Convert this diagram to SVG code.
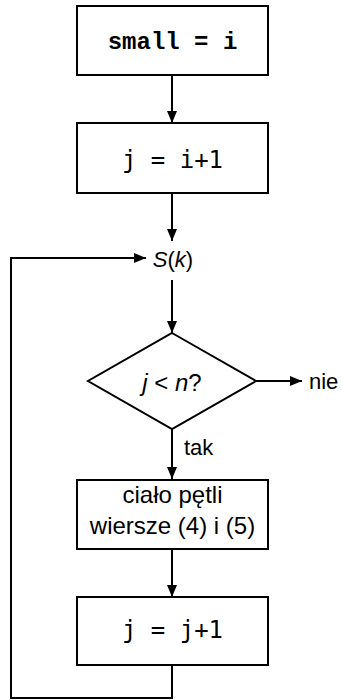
<svg xmlns="http://www.w3.org/2000/svg" width="341" height="700" viewBox="0 0 341 700">
<defs>
<marker id="ah" viewBox="0 0 12 10" refX="12" refY="5" markerWidth="12" markerHeight="10" markerUnits="userSpaceOnUse" orient="auto">
<path d="M0,0 L12,5 L0,10 Z" fill="#000"/>
</marker>
<style>
.box{fill:#fff;stroke:#000;stroke-width:2}
.ln{fill:none;stroke:#000;stroke-width:2}
.cour{font-family:"Liberation Mono",monospace;font-weight:bold;font-size:24px}
.mono{font-family:"DejaVu Sans Mono",monospace;font-size:24px}
.sans{font-family:"Liberation Sans",Arial,sans-serif;font-size:22px}
.big{font-size:24px}
</style>
</defs>
<rect width="341" height="700" fill="#fff"/>
<g id="connectors">
<line class="ln" x1="172" y1="75" x2="172" y2="123" marker-end="url(#ah)"/>
<line class="ln" x1="172" y1="193" x2="172" y2="241" marker-end="url(#ah)"/>
<line class="ln" x1="172" y1="280" x2="172" y2="333" marker-end="url(#ah)"/>
<line class="ln" x1="256" y1="381" x2="302" y2="381" marker-end="url(#ah)"/>
<line class="ln" x1="172" y1="429" x2="172" y2="479" marker-end="url(#ah)"/>
<line class="ln" x1="172" y1="549" x2="172" y2="597" marker-end="url(#ah)"/>
<polyline class="ln" points="172,665 172,698 11,698 11,258 146,258" marker-end="url(#ah)"/>
<text class="sans" x="184" y="455">tak</text>
<text class="sans" x="309" y="389">nie</text>
</g>
<g id="n1">
<rect class="box" x="77" y="6" width="191" height="69"/>
<text class="cour" x="172.5" y="49" text-anchor="middle">small = i</text>
</g>
<g id="n2">
<rect class="box" x="77" y="123" width="191" height="70"/>
<text class="mono" x="172.5" y="168" text-anchor="middle">j = i+1</text>
</g>
<g id="n3">
<text class="sans" x="173" y="267" text-anchor="middle"><tspan font-style="italic">S</tspan>(<tspan font-style="italic">k</tspan>)</text>
</g>
<g id="n4">
<polygon class="box" points="172,333 256,381 172,429 88,381"/>
<text class="sans big" x="172" y="391" text-anchor="middle"><tspan font-style="italic">j</tspan> &lt; <tspan font-style="italic">n</tspan>?</text>
</g>
<g id="n5">
<rect class="box" x="77" y="480" width="191" height="69"/>
<text class="sans big" x="172.5" y="503" text-anchor="middle">ciało pętli</text>
<text class="sans big" x="172.5" y="534" text-anchor="middle">wiersze (4) i (5)</text>
</g>
<g id="n6">
<rect class="box" x="77" y="597" width="191" height="68"/>
<text class="mono" x="172.5" y="638" text-anchor="middle">j = j+1</text>
</g>
</svg>
